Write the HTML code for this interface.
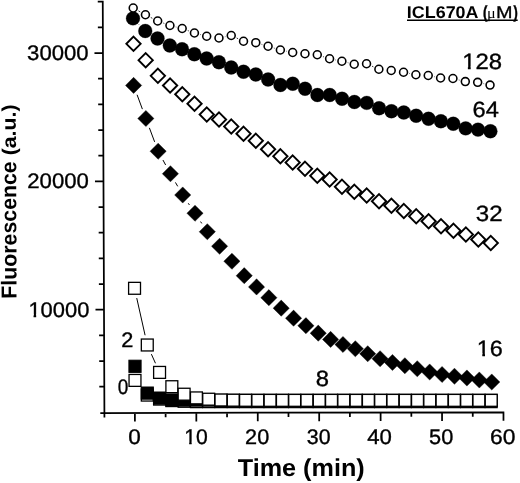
<!DOCTYPE html>
<html><head><meta charset="utf-8"><title>ICL670A fluorescence</title>
<style>html,body{margin:0;padding:0;background:#fff}svg{display:block}text{font-family:"Liberation Sans",sans-serif;fill:#000}</style>
</head><body>
<svg width="520" height="483" viewBox="0 0 520 483" text-rendering="geometricPrecision">
<rect width="520" height="483" fill="#fff"/>
<path d="M102.75 0.8L104.42 417.6M100.3 413.01L504.3 412.25M104.30 386.71h-5.0M104.20 361.04h-5.0M104.09 335.37h-5.0M103.99 309.70h-8.5M103.89 284.03h-5.0M103.78 258.36h-5.0M103.68 232.69h-5.0M103.58 207.02h-5.0M103.48 181.35h-8.5M103.37 155.68h-5.0M103.27 130.01h-5.0M103.17 104.34h-5.0M103.07 78.67h-5.0M102.96 53.00h-8.5M102.86 27.33h-5.0M102.76 1.66h-5.0M134.90 412.94v8.6M165.62 412.88v4.4M196.33 412.83v8.6M227.05 412.77v4.4M257.76 412.71v8.6M288.48 412.65v4.4M319.19 412.60v8.6M349.90 412.54v4.4M380.62 412.48v8.6M411.34 412.42v4.4M442.05 412.37v8.6M472.76 412.31v4.4M503.48 412.25v8.6" stroke="#000" stroke-width="1.75" fill="none"/>
<rect x="129.05" y="374.45" width="11.9" height="11.9" fill="#fff" stroke="#000" stroke-width="1.3"/>
<rect x="141.33" y="389.15" width="11.9" height="11.9" fill="#fff" stroke="#000" stroke-width="1.3"/>
<rect x="153.62" y="393.15" width="11.9" height="11.9" fill="#fff" stroke="#000" stroke-width="1.3"/>
<rect x="165.90" y="394.65" width="11.9" height="11.9" fill="#fff" stroke="#000" stroke-width="1.3"/>
<rect x="178.18" y="395.35" width="11.9" height="11.9" fill="#fff" stroke="#000" stroke-width="1.3"/>
<rect x="190.47" y="395.70" width="11.9" height="11.9" fill="#fff" stroke="#000" stroke-width="1.3"/>
<rect x="202.75" y="395.70" width="11.9" height="11.9" fill="#fff" stroke="#000" stroke-width="1.3"/>
<rect x="215.03" y="395.70" width="11.9" height="11.9" fill="#fff" stroke="#000" stroke-width="1.3"/>
<rect x="227.31" y="395.70" width="11.9" height="11.9" fill="#fff" stroke="#000" stroke-width="1.3"/>
<rect x="239.60" y="395.70" width="11.9" height="11.9" fill="#fff" stroke="#000" stroke-width="1.3"/>
<rect x="251.88" y="395.70" width="11.9" height="11.9" fill="#fff" stroke="#000" stroke-width="1.3"/>
<rect x="264.16" y="395.70" width="11.9" height="11.9" fill="#fff" stroke="#000" stroke-width="1.3"/>
<rect x="276.45" y="395.70" width="11.9" height="11.9" fill="#fff" stroke="#000" stroke-width="1.3"/>
<rect x="288.73" y="395.70" width="11.9" height="11.9" fill="#fff" stroke="#000" stroke-width="1.3"/>
<rect x="301.01" y="395.70" width="11.9" height="11.9" fill="#fff" stroke="#000" stroke-width="1.3"/>
<rect x="313.30" y="395.70" width="11.9" height="11.9" fill="#fff" stroke="#000" stroke-width="1.3"/>
<rect x="325.58" y="395.70" width="11.9" height="11.9" fill="#fff" stroke="#000" stroke-width="1.3"/>
<rect x="337.86" y="395.70" width="11.9" height="11.9" fill="#fff" stroke="#000" stroke-width="1.3"/>
<rect x="350.14" y="395.70" width="11.9" height="11.9" fill="#fff" stroke="#000" stroke-width="1.3"/>
<rect x="362.43" y="395.70" width="11.9" height="11.9" fill="#fff" stroke="#000" stroke-width="1.3"/>
<rect x="374.71" y="395.70" width="11.9" height="11.9" fill="#fff" stroke="#000" stroke-width="1.3"/>
<rect x="386.99" y="395.70" width="11.9" height="11.9" fill="#fff" stroke="#000" stroke-width="1.3"/>
<rect x="399.28" y="395.70" width="11.9" height="11.9" fill="#fff" stroke="#000" stroke-width="1.3"/>
<rect x="411.56" y="395.70" width="11.9" height="11.9" fill="#fff" stroke="#000" stroke-width="1.3"/>
<rect x="423.84" y="395.70" width="11.9" height="11.9" fill="#fff" stroke="#000" stroke-width="1.3"/>
<rect x="436.12" y="395.70" width="11.9" height="11.9" fill="#fff" stroke="#000" stroke-width="1.3"/>
<rect x="448.41" y="395.70" width="11.9" height="11.9" fill="#fff" stroke="#000" stroke-width="1.3"/>
<rect x="460.69" y="395.70" width="11.9" height="11.9" fill="#fff" stroke="#000" stroke-width="1.3"/>
<rect x="472.97" y="395.70" width="11.9" height="11.9" fill="#fff" stroke="#000" stroke-width="1.3"/>
<rect x="485.26" y="395.70" width="11.9" height="11.9" fill="#fff" stroke="#000" stroke-width="1.3"/>
<rect x="128.90" y="360.20" width="12.2" height="12.2" fill="#000" stroke="#000" stroke-width="1.0"/>
<rect x="141.18" y="387.00" width="12.2" height="12.2" fill="#000" stroke="#000" stroke-width="1.0"/>
<rect x="153.47" y="392.00" width="12.2" height="12.2" fill="#000" stroke="#000" stroke-width="1.0"/>
<rect x="165.75" y="393.90" width="12.2" height="12.2" fill="#000" stroke="#000" stroke-width="1.0"/>
<rect x="178.03" y="394.00" width="12.2" height="12.2" fill="#000" stroke="#000" stroke-width="1.0"/>
<rect x="190.31" y="394.00" width="12.2" height="12.2" fill="#000" stroke="#000" stroke-width="1.0"/>
<rect x="202.60" y="394.00" width="12.2" height="12.2" fill="#000" stroke="#000" stroke-width="1.0"/>
<rect x="214.88" y="394.25" width="12.2" height="12.2" fill="#000" stroke="#000" stroke-width="1.0"/>
<rect x="227.16" y="394.25" width="12.2" height="12.2" fill="#000" stroke="#000" stroke-width="1.0"/>
<rect x="239.45" y="394.25" width="12.2" height="12.2" fill="#000" stroke="#000" stroke-width="1.0"/>
<rect x="251.73" y="394.25" width="12.2" height="12.2" fill="#000" stroke="#000" stroke-width="1.0"/>
<rect x="264.01" y="394.25" width="12.2" height="12.2" fill="#000" stroke="#000" stroke-width="1.0"/>
<rect x="276.30" y="394.25" width="12.2" height="12.2" fill="#000" stroke="#000" stroke-width="1.0"/>
<rect x="288.58" y="394.25" width="12.2" height="12.2" fill="#000" stroke="#000" stroke-width="1.0"/>
<rect x="300.86" y="394.25" width="12.2" height="12.2" fill="#000" stroke="#000" stroke-width="1.0"/>
<rect x="313.14" y="394.25" width="12.2" height="12.2" fill="#000" stroke="#000" stroke-width="1.0"/>
<rect x="325.43" y="394.25" width="12.2" height="12.2" fill="#000" stroke="#000" stroke-width="1.0"/>
<rect x="337.71" y="394.25" width="12.2" height="12.2" fill="#000" stroke="#000" stroke-width="1.0"/>
<rect x="349.99" y="394.25" width="12.2" height="12.2" fill="#000" stroke="#000" stroke-width="1.0"/>
<rect x="362.28" y="394.25" width="12.2" height="12.2" fill="#000" stroke="#000" stroke-width="1.0"/>
<rect x="374.56" y="394.25" width="12.2" height="12.2" fill="#000" stroke="#000" stroke-width="1.0"/>
<rect x="386.84" y="394.25" width="12.2" height="12.2" fill="#000" stroke="#000" stroke-width="1.0"/>
<rect x="399.13" y="394.25" width="12.2" height="12.2" fill="#000" stroke="#000" stroke-width="1.0"/>
<rect x="411.41" y="394.25" width="12.2" height="12.2" fill="#000" stroke="#000" stroke-width="1.0"/>
<rect x="423.69" y="394.25" width="12.2" height="12.2" fill="#000" stroke="#000" stroke-width="1.0"/>
<rect x="435.97" y="394.25" width="12.2" height="12.2" fill="#000" stroke="#000" stroke-width="1.0"/>
<rect x="448.26" y="394.25" width="12.2" height="12.2" fill="#000" stroke="#000" stroke-width="1.0"/>
<rect x="460.54" y="394.25" width="12.2" height="12.2" fill="#000" stroke="#000" stroke-width="1.0"/>
<rect x="472.82" y="394.25" width="12.2" height="12.2" fill="#000" stroke="#000" stroke-width="1.0"/>
<rect x="485.11" y="394.25" width="12.2" height="12.2" fill="#000" stroke="#000" stroke-width="1.0"/>
<path d="M136.74 298.06L145.09 335.24M151.37 354.13L155.48 363.27" stroke="#000" stroke-width="1.0" fill="none"/>
<rect x="128.60" y="282.35" width="11.9" height="11.9" fill="#fff" stroke="#000" stroke-width="1.3"/>
<rect x="141.33" y="339.05" width="11.9" height="11.9" fill="#fff" stroke="#000" stroke-width="1.3"/>
<rect x="153.62" y="366.45" width="11.9" height="11.9" fill="#fff" stroke="#000" stroke-width="1.3"/>
<rect x="165.90" y="380.75" width="11.9" height="11.9" fill="#fff" stroke="#000" stroke-width="1.3"/>
<rect x="178.18" y="388.25" width="11.9" height="11.9" fill="#fff" stroke="#000" stroke-width="1.3"/>
<rect x="190.47" y="391.95" width="11.9" height="11.9" fill="#fff" stroke="#000" stroke-width="1.3"/>
<rect x="202.75" y="393.25" width="11.9" height="11.9" fill="#fff" stroke="#000" stroke-width="1.3"/>
<rect x="215.03" y="394.05" width="11.9" height="11.9" fill="#fff" stroke="#000" stroke-width="1.3"/>
<rect x="227.31" y="394.25" width="11.9" height="11.9" fill="#fff" stroke="#000" stroke-width="1.3"/>
<rect x="239.60" y="394.35" width="11.9" height="11.9" fill="#fff" stroke="#000" stroke-width="1.3"/>
<rect x="251.88" y="394.40" width="11.9" height="11.9" fill="#fff" stroke="#000" stroke-width="1.3"/>
<rect x="264.16" y="394.40" width="11.9" height="11.9" fill="#fff" stroke="#000" stroke-width="1.3"/>
<rect x="276.45" y="394.40" width="11.9" height="11.9" fill="#fff" stroke="#000" stroke-width="1.3"/>
<rect x="288.73" y="394.40" width="11.9" height="11.9" fill="#fff" stroke="#000" stroke-width="1.3"/>
<rect x="301.01" y="394.40" width="11.9" height="11.9" fill="#fff" stroke="#000" stroke-width="1.3"/>
<rect x="313.30" y="394.40" width="11.9" height="11.9" fill="#fff" stroke="#000" stroke-width="1.3"/>
<rect x="325.58" y="394.40" width="11.9" height="11.9" fill="#fff" stroke="#000" stroke-width="1.3"/>
<rect x="337.86" y="394.40" width="11.9" height="11.9" fill="#fff" stroke="#000" stroke-width="1.3"/>
<rect x="350.14" y="394.40" width="11.9" height="11.9" fill="#fff" stroke="#000" stroke-width="1.3"/>
<rect x="362.43" y="394.40" width="11.9" height="11.9" fill="#fff" stroke="#000" stroke-width="1.3"/>
<rect x="374.71" y="394.40" width="11.9" height="11.9" fill="#fff" stroke="#000" stroke-width="1.3"/>
<rect x="386.99" y="394.40" width="11.9" height="11.9" fill="#fff" stroke="#000" stroke-width="1.3"/>
<rect x="399.28" y="394.40" width="11.9" height="11.9" fill="#fff" stroke="#000" stroke-width="1.3"/>
<rect x="411.56" y="394.40" width="11.9" height="11.9" fill="#fff" stroke="#000" stroke-width="1.3"/>
<rect x="423.84" y="394.40" width="11.9" height="11.9" fill="#fff" stroke="#000" stroke-width="1.3"/>
<rect x="436.12" y="394.40" width="11.9" height="11.9" fill="#fff" stroke="#000" stroke-width="1.3"/>
<rect x="448.41" y="394.40" width="11.9" height="11.9" fill="#fff" stroke="#000" stroke-width="1.3"/>
<rect x="460.69" y="394.40" width="11.9" height="11.9" fill="#fff" stroke="#000" stroke-width="1.3"/>
<rect x="472.97" y="394.40" width="11.9" height="11.9" fill="#fff" stroke="#000" stroke-width="1.3"/>
<rect x="485.26" y="394.40" width="11.9" height="11.9" fill="#fff" stroke="#000" stroke-width="1.3"/>
<path d="M137.08 94.78L142.39 109.12M149.38 127.86L154.64 141.89M162.94 160.03L165.64 164.97M175.43 182.41L177.71 186.34M188.30 203.29L189.42 204.96M200.54 221.58L201.77 223.42" stroke="#000" stroke-width="1.0" fill="none"/>
<path d="M133.60 77.30L141.70 85.40L133.60 93.50L125.50 85.40Z" fill="#000" stroke="#000" stroke-width="0.4"/>
<path d="M145.87 110.40L153.97 118.50L145.87 126.60L137.77 118.50Z" fill="#000" stroke="#000" stroke-width="0.4"/>
<path d="M158.15 143.15L166.25 151.25L158.15 159.35L150.05 151.25Z" fill="#000" stroke="#000" stroke-width="0.4"/>
<path d="M170.43 165.65L178.53 173.75L170.43 181.85L162.33 173.75Z" fill="#000" stroke="#000" stroke-width="0.4"/>
<path d="M182.71 186.90L190.81 195.00L182.71 203.10L174.61 195.00Z" fill="#000" stroke="#000" stroke-width="0.4"/>
<path d="M195.01 205.15L203.11 213.25L195.01 221.35L186.91 213.25Z" fill="#000" stroke="#000" stroke-width="0.4"/>
<path d="M207.31 223.65L215.41 231.75L207.31 239.85L199.21 231.75Z" fill="#000" stroke="#000" stroke-width="0.4"/>
<path d="M219.61 238.15L227.71 246.25L219.61 254.35L211.51 246.25Z" fill="#000" stroke="#000" stroke-width="0.4"/>
<path d="M231.92 253.15L240.02 261.25L231.92 269.35L223.82 261.25Z" fill="#000" stroke="#000" stroke-width="0.4"/>
<path d="M244.24 267.60L252.34 275.70L244.24 283.80L236.14 275.70Z" fill="#000" stroke="#000" stroke-width="0.4"/>
<path d="M256.56 278.85L264.66 286.95L256.56 295.05L248.46 286.95Z" fill="#000" stroke="#000" stroke-width="0.4"/>
<path d="M268.88 289.60L276.98 297.70L268.88 305.80L260.78 297.70Z" fill="#000" stroke="#000" stroke-width="0.4"/>
<path d="M281.22 300.10L289.32 308.20L281.22 316.30L273.12 308.20Z" fill="#000" stroke="#000" stroke-width="0.4"/>
<path d="M293.56 310.10L301.66 318.20L293.56 326.30L285.46 318.20Z" fill="#000" stroke="#000" stroke-width="0.4"/>
<path d="M305.90 317.60L314.00 325.70L305.90 333.80L297.80 325.70Z" fill="#000" stroke="#000" stroke-width="0.4"/>
<path d="M318.25 325.10L326.35 333.20L318.25 341.30L310.15 333.20Z" fill="#000" stroke="#000" stroke-width="0.4"/>
<path d="M330.61 331.35L338.71 339.45L330.61 347.55L322.51 339.45Z" fill="#000" stroke="#000" stroke-width="0.4"/>
<path d="M342.97 336.40L351.07 344.50L342.97 352.60L334.87 344.50Z" fill="#000" stroke="#000" stroke-width="0.4"/>
<path d="M355.33 340.65L363.43 348.75L355.33 356.85L347.23 348.75Z" fill="#000" stroke="#000" stroke-width="0.4"/>
<path d="M367.71 345.65L375.81 353.75L367.71 361.85L359.61 353.75Z" fill="#000" stroke="#000" stroke-width="0.4"/>
<path d="M380.09 350.65L388.19 358.75L380.09 366.85L371.99 358.75Z" fill="#000" stroke="#000" stroke-width="0.4"/>
<path d="M392.47 354.40L400.57 362.50L392.47 370.60L384.37 362.50Z" fill="#000" stroke="#000" stroke-width="0.4"/>
<path d="M404.86 357.65L412.96 365.75L404.86 373.85L396.76 365.75Z" fill="#000" stroke="#000" stroke-width="0.4"/>
<path d="M417.26 360.65L425.36 368.75L417.26 376.85L409.16 368.75Z" fill="#000" stroke="#000" stroke-width="0.4"/>
<path d="M429.66 363.90L437.76 372.00L429.66 380.10L421.56 372.00Z" fill="#000" stroke="#000" stroke-width="0.4"/>
<path d="M442.06 366.40L450.16 374.50L442.06 382.60L433.96 374.50Z" fill="#000" stroke="#000" stroke-width="0.4"/>
<path d="M454.48 368.15L462.58 376.25L454.48 384.35L446.38 376.25Z" fill="#000" stroke="#000" stroke-width="0.4"/>
<path d="M466.90 369.90L475.00 378.00L466.90 386.10L458.80 378.00Z" fill="#000" stroke="#000" stroke-width="0.4"/>
<path d="M479.32 371.90L487.42 380.00L479.32 388.10L471.22 380.00Z" fill="#000" stroke="#000" stroke-width="0.4"/>
<path d="M491.75 373.90L499.85 382.00L491.75 390.10L483.65 382.00Z" fill="#000" stroke="#000" stroke-width="0.4"/>
<path d="M133.50 36.65L140.65 43.80L133.50 50.95L126.35 43.80Z" fill="#fff" stroke="#000" stroke-width="1.9"/>
<path d="M145.69 53.05L152.84 60.20L145.69 67.35L138.54 60.20Z" fill="#fff" stroke="#000" stroke-width="1.9"/>
<path d="M157.88 68.65L165.03 75.80L157.88 82.95L150.73 75.80Z" fill="#fff" stroke="#000" stroke-width="1.9"/>
<path d="M170.09 78.35L177.24 85.50L170.09 92.65L162.94 85.50Z" fill="#fff" stroke="#000" stroke-width="1.9"/>
<path d="M182.30 87.10L189.45 94.25L182.30 101.40L175.15 94.25Z" fill="#fff" stroke="#000" stroke-width="1.9"/>
<path d="M194.53 96.60L201.68 103.75L194.53 110.90L187.38 103.75Z" fill="#fff" stroke="#000" stroke-width="1.9"/>
<path d="M206.76 107.35L213.91 114.50L206.76 121.65L199.61 114.50Z" fill="#fff" stroke="#000" stroke-width="1.9"/>
<path d="M219.01 112.35L226.16 119.50L219.01 126.65L211.86 119.50Z" fill="#fff" stroke="#000" stroke-width="1.9"/>
<path d="M231.26 119.35L238.41 126.50L231.26 133.65L224.11 126.50Z" fill="#fff" stroke="#000" stroke-width="1.9"/>
<path d="M243.52 126.60L250.67 133.75L243.52 140.90L236.37 133.75Z" fill="#fff" stroke="#000" stroke-width="1.9"/>
<path d="M255.80 133.60L262.95 140.75L255.80 147.90L248.65 140.75Z" fill="#fff" stroke="#000" stroke-width="1.9"/>
<path d="M268.08 142.10L275.23 149.25L268.08 156.40L260.93 149.25Z" fill="#fff" stroke="#000" stroke-width="1.9"/>
<path d="M280.37 149.10L287.52 156.25L280.37 163.40L273.22 156.25Z" fill="#fff" stroke="#000" stroke-width="1.9"/>
<path d="M292.67 155.35L299.82 162.50L292.67 169.65L285.52 162.50Z" fill="#fff" stroke="#000" stroke-width="1.9"/>
<path d="M304.98 161.60L312.13 168.75L304.98 175.90L297.83 168.75Z" fill="#fff" stroke="#000" stroke-width="1.9"/>
<path d="M317.30 168.60L324.45 175.75L317.30 182.90L310.15 175.75Z" fill="#fff" stroke="#000" stroke-width="1.9"/>
<path d="M329.63 172.35L336.78 179.50L329.63 186.65L322.48 179.50Z" fill="#fff" stroke="#000" stroke-width="1.9"/>
<path d="M341.97 179.60L349.12 186.75L341.97 193.90L334.82 186.75Z" fill="#fff" stroke="#000" stroke-width="1.9"/>
<path d="M354.32 184.60L361.47 191.75L354.32 198.90L347.17 191.75Z" fill="#fff" stroke="#000" stroke-width="1.9"/>
<path d="M366.68 188.35L373.83 195.50L366.68 202.65L359.53 195.50Z" fill="#fff" stroke="#000" stroke-width="1.9"/>
<path d="M379.04 194.10L386.19 201.25L379.04 208.40L371.89 201.25Z" fill="#fff" stroke="#000" stroke-width="1.9"/>
<path d="M391.42 198.60L398.57 205.75L391.42 212.90L384.27 205.75Z" fill="#fff" stroke="#000" stroke-width="1.9"/>
<path d="M403.81 203.85L410.96 211.00L403.81 218.15L396.66 211.00Z" fill="#fff" stroke="#000" stroke-width="1.9"/>
<path d="M416.20 209.10L423.35 216.25L416.20 223.40L409.05 216.25Z" fill="#fff" stroke="#000" stroke-width="1.9"/>
<path d="M428.61 214.10L435.76 221.25L428.61 228.40L421.46 221.25Z" fill="#fff" stroke="#000" stroke-width="1.9"/>
<path d="M441.02 219.10L448.17 226.25L441.02 233.40L433.87 226.25Z" fill="#fff" stroke="#000" stroke-width="1.9"/>
<path d="M453.45 223.60L460.60 230.75L453.45 237.90L446.30 230.75Z" fill="#fff" stroke="#000" stroke-width="1.9"/>
<path d="M465.88 227.35L473.03 234.50L465.88 241.65L458.73 234.50Z" fill="#fff" stroke="#000" stroke-width="1.9"/>
<path d="M478.33 232.35L485.48 239.50L478.33 246.65L471.18 239.50Z" fill="#fff" stroke="#000" stroke-width="1.9"/>
<path d="M490.78 235.85L497.93 243.00L490.78 250.15L483.63 243.00Z" fill="#fff" stroke="#000" stroke-width="1.9"/>
<path d="M138.93 24.49L139.33 24.91" stroke="#000" stroke-width="1.0" fill="none"/>
<circle cx="133.00" cy="18.40" r="6.9" fill="#000" stroke="#000" stroke-width="0.3"/>
<circle cx="145.26" cy="31.00" r="6.9" fill="#000" stroke="#000" stroke-width="0.3"/>
<circle cx="157.52" cy="38.50" r="6.9" fill="#000" stroke="#000" stroke-width="0.3"/>
<circle cx="169.79" cy="45.50" r="6.9" fill="#000" stroke="#000" stroke-width="0.3"/>
<circle cx="182.06" cy="49.25" r="6.9" fill="#000" stroke="#000" stroke-width="0.3"/>
<circle cx="194.34" cy="54.25" r="6.9" fill="#000" stroke="#000" stroke-width="0.3"/>
<circle cx="206.62" cy="58.50" r="6.9" fill="#000" stroke="#000" stroke-width="0.3"/>
<circle cx="218.91" cy="62.25" r="6.9" fill="#000" stroke="#000" stroke-width="0.3"/>
<circle cx="231.20" cy="67.50" r="6.9" fill="#000" stroke="#000" stroke-width="0.3"/>
<circle cx="243.50" cy="71.75" r="6.9" fill="#000" stroke="#000" stroke-width="0.3"/>
<circle cx="255.80" cy="74.50" r="6.9" fill="#000" stroke="#000" stroke-width="0.3"/>
<circle cx="268.10" cy="79.50" r="6.9" fill="#000" stroke="#000" stroke-width="0.3"/>
<circle cx="280.41" cy="85.00" r="6.9" fill="#000" stroke="#000" stroke-width="0.3"/>
<circle cx="292.73" cy="83.75" r="6.9" fill="#000" stroke="#000" stroke-width="0.3"/>
<circle cx="305.05" cy="88.75" r="6.9" fill="#000" stroke="#000" stroke-width="0.3"/>
<circle cx="317.38" cy="95.00" r="6.9" fill="#000" stroke="#000" stroke-width="0.3"/>
<circle cx="329.71" cy="95.00" r="6.9" fill="#000" stroke="#000" stroke-width="0.3"/>
<circle cx="342.04" cy="98.75" r="6.9" fill="#000" stroke="#000" stroke-width="0.3"/>
<circle cx="354.38" cy="102.00" r="6.9" fill="#000" stroke="#000" stroke-width="0.3"/>
<circle cx="366.72" cy="102.90" r="6.9" fill="#000" stroke="#000" stroke-width="0.3"/>
<circle cx="379.07" cy="108.25" r="6.9" fill="#000" stroke="#000" stroke-width="0.3"/>
<circle cx="391.43" cy="111.25" r="6.9" fill="#000" stroke="#000" stroke-width="0.3"/>
<circle cx="403.78" cy="112.50" r="6.9" fill="#000" stroke="#000" stroke-width="0.3"/>
<circle cx="416.15" cy="115.75" r="6.9" fill="#000" stroke="#000" stroke-width="0.3"/>
<circle cx="428.51" cy="118.75" r="6.9" fill="#000" stroke="#000" stroke-width="0.3"/>
<circle cx="440.89" cy="121.25" r="6.9" fill="#000" stroke="#000" stroke-width="0.3"/>
<circle cx="453.26" cy="123.75" r="6.9" fill="#000" stroke="#000" stroke-width="0.3"/>
<circle cx="465.65" cy="128.40" r="6.9" fill="#000" stroke="#000" stroke-width="0.3"/>
<circle cx="478.03" cy="129.70" r="6.9" fill="#000" stroke="#000" stroke-width="0.3"/>
<circle cx="490.42" cy="131.25" r="6.9" fill="#000" stroke="#000" stroke-width="0.3"/>
<path d="M138.45 10.90L140.18 11.85M150.78 17.48L152.34 18.27M163.31 23.07L164.30 23.43M175.76 26.93L176.35 27.07M187.81 30.57L188.81 30.93M200.24 34.54L200.90 34.71M224.85 36.80L225.36 36.70M236.67 38.04L238.08 38.71M261.56 44.37L262.32 44.58M273.82 48.00L274.64 48.25M286.25 51.20L286.79 51.30M322.98 56.60L323.88 56.90M335.47 59.94L336.02 60.06M347.73 62.67L348.39 62.83M372.02 66.19L373.39 66.81M409.42 73.44L410.01 73.56M434.12 76.69L434.71 76.81M458.76 79.96L459.49 80.14M483.53 83.62L484.19 83.78" stroke="#000" stroke-width="0.8" fill="none"/>
<circle cx="133.20" cy="8.00" r="3.95" fill="#fff" stroke="#000" stroke-width="1.6"/>
<circle cx="145.44" cy="14.75" r="3.95" fill="#fff" stroke="#000" stroke-width="1.6"/>
<circle cx="157.68" cy="21.00" r="3.95" fill="#fff" stroke="#000" stroke-width="1.6"/>
<circle cx="169.93" cy="25.50" r="3.95" fill="#fff" stroke="#000" stroke-width="1.6"/>
<circle cx="182.18" cy="28.50" r="3.95" fill="#fff" stroke="#000" stroke-width="1.6"/>
<circle cx="194.44" cy="33.00" r="3.95" fill="#fff" stroke="#000" stroke-width="1.6"/>
<circle cx="206.70" cy="36.25" r="3.95" fill="#fff" stroke="#000" stroke-width="1.6"/>
<circle cx="218.97" cy="38.00" r="3.95" fill="#fff" stroke="#000" stroke-width="1.6"/>
<circle cx="231.24" cy="35.50" r="3.95" fill="#fff" stroke="#000" stroke-width="1.6"/>
<circle cx="243.52" cy="41.25" r="3.95" fill="#fff" stroke="#000" stroke-width="1.6"/>
<circle cx="255.80" cy="42.70" r="3.95" fill="#fff" stroke="#000" stroke-width="1.6"/>
<circle cx="268.08" cy="46.25" r="3.95" fill="#fff" stroke="#000" stroke-width="1.6"/>
<circle cx="280.37" cy="50.00" r="3.95" fill="#fff" stroke="#000" stroke-width="1.6"/>
<circle cx="292.67" cy="52.50" r="3.95" fill="#fff" stroke="#000" stroke-width="1.6"/>
<circle cx="304.97" cy="53.75" r="3.95" fill="#fff" stroke="#000" stroke-width="1.6"/>
<circle cx="317.28" cy="54.75" r="3.95" fill="#fff" stroke="#000" stroke-width="1.6"/>
<circle cx="329.59" cy="58.75" r="3.95" fill="#fff" stroke="#000" stroke-width="1.6"/>
<circle cx="341.90" cy="61.25" r="3.95" fill="#fff" stroke="#000" stroke-width="1.6"/>
<circle cx="354.22" cy="64.25" r="3.95" fill="#fff" stroke="#000" stroke-width="1.6"/>
<circle cx="366.54" cy="63.75" r="3.95" fill="#fff" stroke="#000" stroke-width="1.6"/>
<circle cx="378.87" cy="69.25" r="3.95" fill="#fff" stroke="#000" stroke-width="1.6"/>
<circle cx="391.21" cy="70.50" r="3.95" fill="#fff" stroke="#000" stroke-width="1.6"/>
<circle cx="403.54" cy="72.25" r="3.95" fill="#fff" stroke="#000" stroke-width="1.6"/>
<circle cx="415.89" cy="74.75" r="3.95" fill="#fff" stroke="#000" stroke-width="1.6"/>
<circle cx="428.23" cy="75.50" r="3.95" fill="#fff" stroke="#000" stroke-width="1.6"/>
<circle cx="440.59" cy="78.00" r="3.95" fill="#fff" stroke="#000" stroke-width="1.6"/>
<circle cx="452.94" cy="78.50" r="3.95" fill="#fff" stroke="#000" stroke-width="1.6"/>
<circle cx="465.31" cy="81.60" r="3.95" fill="#fff" stroke="#000" stroke-width="1.6"/>
<circle cx="477.67" cy="82.30" r="3.95" fill="#fff" stroke="#000" stroke-width="1.6"/>
<circle cx="490.04" cy="85.10" r="3.95" fill="#fff" stroke="#000" stroke-width="1.6"/>
<text transform="translate(27.12,60.20) scale(1.053,1)" font-size="21.0" font-weight="normal" stroke="#000" stroke-width="0.35">30000</text>
<text transform="translate(27.29,188.10) scale(1.055,1)" font-size="21.0" font-weight="normal" stroke="#000" stroke-width="0.35">20000</text>
<clipPath id="c21_0"><path clip-rule="evenodd" d="M-9 -40H400V12H-9ZM-3 -2.42H4.98V3H-3Z M7.44 -2.42H11.45V3H7.44Z"/></clipPath>
<text transform="translate(28.40,316.60) scale(1.043,1)" font-size="21.0" font-weight="normal" stroke="#000" stroke-width="0.35" clip-path="url(#c21_0)">10000</text>
<text transform="translate(128.30,444.19) scale(1.071,1)" font-size="21.0" font-weight="normal" stroke="#000" stroke-width="0.35">0</text>
<text transform="translate(184.17,444.19) scale(1.007,1)" font-size="21.0" font-weight="normal" stroke="#000" stroke-width="0.35" clip-path="url(#c21_0)">10</text>
<text transform="translate(245.12,444.19) scale(1.032,1)" font-size="21.0" font-weight="normal" stroke="#000" stroke-width="0.35">20</text>
<text transform="translate(306.75,444.19) scale(1.017,1)" font-size="21.0" font-weight="normal" stroke="#000" stroke-width="0.35">30</text>
<text transform="translate(367.26,444.19) scale(1.057,1)" font-size="21.0" font-weight="normal" stroke="#000" stroke-width="0.35">40</text>
<text transform="translate(429.03,444.19) scale(1.036,1)" font-size="21.0" font-weight="normal" stroke="#000" stroke-width="0.35">50</text>
<text transform="translate(490.06,444.19) scale(1.088,1)" font-size="21.0" font-weight="normal" stroke="#000" stroke-width="0.35">60</text>
<clipPath id="c22_1"><path clip-rule="evenodd" d="M-9 -40H400V12H-9ZM-3 -2.54H5.26V3H-3Z M7.81 -2.54H12.04V3H7.81Z"/></clipPath>
<text transform="translate(462.21,68.92) scale(1.081,1)" font-size="22.1" font-weight="normal" stroke="#000" stroke-width="0.35" clip-path="url(#c22_1)">128</text>
<text transform="translate(472.62,117.27) scale(1.068,1)" font-size="22.1" font-weight="normal" stroke="#000" stroke-width="0.35">64</text>
<text transform="translate(475.74,220.57) scale(1.091,1)" font-size="22.1" font-weight="normal" stroke="#000" stroke-width="0.35">32</text>
<text transform="translate(476.75,355.62) scale(1.059,1)" font-size="22.1" font-weight="normal" stroke="#000" stroke-width="0.35" clip-path="url(#c22_1)">16</text>
<text transform="translate(315.75,385.52) scale(1.078,1)" font-size="22.1" font-weight="normal" stroke="#000" stroke-width="0.35">8</text>
<text transform="translate(121.31,346.69) scale(1.035,1)" font-size="21.0" font-weight="normal" stroke="#000" stroke-width="0.35">2</text>
<text transform="translate(117.74,394.30) scale(0.903,1)" font-size="21.0" font-weight="normal" stroke="#000" stroke-width="0.35">0</text>
<text transform="translate(237.75,475.6) scale(1.033,1)" font-size="24.4" font-weight="bold">Time (min)</text>
<text transform="translate(16.6,298.69) rotate(-90.2)" font-weight="bold" font-size="21.6"><tspan x="0" textLength="137.41" lengthAdjust="spacingAndGlyphs">Fluorescence</tspan> <tspan x="143.33" dy="-0.2" font-size="19.8" textLength="50.91" lengthAdjust="spacingAndGlyphs">(a.u.)</tspan></text>
<text y="18.1"><tspan x="406.85" font-size="17.0" font-weight="bold" textLength="71.62" lengthAdjust="spacingAndGlyphs">ICL670A</tspan> <tspan x="482.94" font-size="17.4" font-weight="bold" stroke="#000" stroke-width="0.5" textLength="4.40" lengthAdjust="spacingAndGlyphs">(</tspan><tspan x="487.10" font-size="15.0" font-weight="normal" font-family="Liberation Serif, DejaVu Serif, serif" textLength="8.68" lengthAdjust="spacingAndGlyphs">μ</tspan><tspan x="495.91" font-size="17.0" font-weight="normal" stroke="#000" stroke-width="0.3" textLength="16.54" lengthAdjust="spacingAndGlyphs">M</tspan><tspan x="513.60" font-size="17.4" font-weight="bold" stroke="#000" stroke-width="0.5" textLength="4.28" lengthAdjust="spacingAndGlyphs">)</tspan></text>
<path d="M407 20.3H517.7" stroke="#000" stroke-width="1.4"/>
</svg>
</body></html>
